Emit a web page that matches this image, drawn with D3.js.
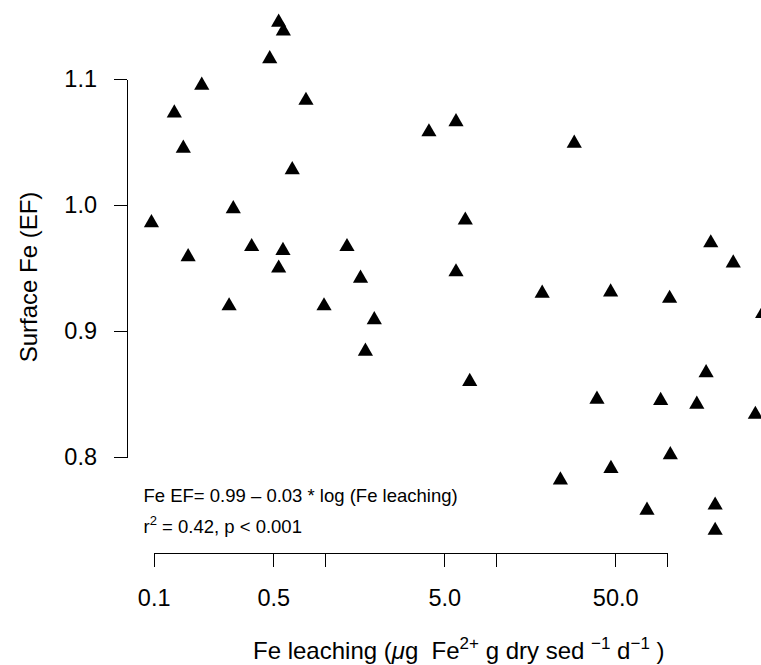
<!DOCTYPE html>
<html>
<head>
<meta charset="utf-8">
<script src="https://cdn.jsdelivr.net/npm/d3@7"></script>
<style>
  body { margin: 0; background: #fff; }
  svg { display: block; font-family: "Liberation Sans", Arial, Helvetica, sans-serif; }
  .axis path, .axis line { stroke: #000; stroke-width: 1.2; shape-rendering: crispEdges; }
  .axis text { font-size: 23.5px; fill: #000; }
  .xtitle { white-space: pre; }
</style>
</head>
<body>
<div id="chart"></div>
<script>
////////////////////////////////////////////////////////////
//////////////////////// Data //////////////////////////////
////////////////////////////////////////////////////////////

// Fe leaching (ug Fe2+ g dry sed-1 d-1)
var feLeaching = [0.097, 0.132, 0.149, 0.159, 0.191, 0.276, 0.292, 0.374, 0.477, 0.538,
                  0.573, 0.538, 0.570, 0.646, 0.777, 0.991, 1.35, 1.62, 1.73, 1.95,
                  4.07, 5.86, 5.86, 6.64, 7.05, 18.7, 23.9, 28.8, 39.1, 47.0,
                  47.2, 76.7, 92.2, 104, 105, 150, 170, 181, 192, 192,
                  245, 330, 364];

// Surface Fe enrichment factor
var surfaceFe = [0.986, 1.073, 1.045, 0.959, 1.095, 0.920, 0.997, 0.967, 1.116, 1.145,
                 1.138, 0.950, 0.964, 1.028, 1.083, 0.920, 0.967, 0.942, 0.884, 0.909,
                 1.058, 1.066, 0.947, 0.988, 0.860, 0.930, 0.782, 1.049, 0.846, 0.931,
                 0.791, 0.758, 0.845, 0.926, 0.802, 0.842, 0.867, 0.970, 0.762, 0.742,
                 0.954, 0.834, 0.914];

var xTickValues = [0.1, 0.5, 1, 5, 10, 50, 100],
    xTickLabels = ["0.1", "0.5", "", "5.0", "", "50.0", ""];

var yTickValues = [0.8, 0.9, 1.0, 1.1],
    yTickLabels = ["0.8", "0.9", "1.0", "1.1"];

////////////////////////////////////////////////////////////
//////////////////////// Set-Up ////////////////////////////
////////////////////////////////////////////////////////////

var width = 761,
    height = 665;

var x = d3.scaleLog()
    .domain([0.1, 100])
    .range([153.7, 666.7]);

var y = d3.scaleLinear()
    .domain([0.8, 1.1])
    .range([457.3, 79]);

var svg = d3.select("#chart").append("svg")
    .attr("width", width)
    .attr("height", height);

////////////////////////////////////////////////////////////
//////////////////////// Axes //////////////////////////////
////////////////////////////////////////////////////////////

var xAxis = d3.axisBottom(x)
    .tickValues(xTickValues)
    .tickFormat(function(d, i) { return xTickLabels[i]; })
    .tickSize(14)
    .tickSizeOuter(0)
    .tickPadding(23);

svg.append("g")
    .attr("class", "axis")
    .attr("transform", "translate(0,552.7)")
    .call(xAxis);

var yAxis = d3.axisLeft(y)
    .tickValues(yTickValues)
    .tickFormat(function(d, i) { return yTickLabels[i]; })
    .tickSize(13.5)
    .tickSizeOuter(0)
    .tickPadding(16.8);

svg.append("g")
    .attr("class", "axis")
    .attr("transform", "translate(127.3,0)")
    .call(yAxis);

//let the css set the font
svg.selectAll(".axis").attr("font-family", null).attr("font-size", null);

////////////////////////////////////////////////////////////
//////////////////////// Points ////////////////////////////
////////////////////////////////////////////////////////////

var triangle = d3.symbol().type(d3.symbolTriangle).size(100);

svg.append("g")
    .selectAll("path.pt")
    .data(d3.range(feLeaching.length))
    .enter().append("path")
    .attr("class", "pt")
    .attr("d", triangle)
    .attr("transform", function(i) { return "translate(" + x(feLeaching[i]) + "," + y(surfaceFe[i]) + ")"; })
    .style("fill", "#000");

////////////////////////////////////////////////////////////
//////////////////////// Labels ////////////////////////////
////////////////////////////////////////////////////////////

// y axis title
svg.append("text")
    .attr("transform", "translate(37,277) rotate(-90)")
    .style("text-anchor", "middle")
    .style("font-size", "24px")
    .text("Surface Fe (EF)");

// x axis title, flowing like R's plotmath
var xt = svg.append("text")
    .attr("class", "xtitle")
    .attr("x", 253)
    .attr("y", 659)
    .style("font-size", "24px");
xt.append("tspan").text("Fe leaching (");
xt.append("tspan").style("font-style", "italic").text("\u03bc");
xt.append("tspan").text("g  Fe");
xt.append("tspan").attr("dy", -10).style("font-size", "17px").text("2+");
xt.append("tspan").attr("dy", 10).text(" g dry sed ");
xt.append("tspan").attr("dy", -10).style("font-size", "17px").text("\u22121");
xt.append("tspan").attr("dy", 10).text(" d");
xt.append("tspan").attr("dy", -10).style("font-size", "17px").text("\u22121");
xt.append("tspan").attr("dy", 10).text(" )");

// regression annotation
svg.append("text")
    .attr("x", 143.5)
    .attr("y", 501.5)
    .style("font-size", "18.5px")
    .text("Fe EF= 0.99 \u2013 0.03 * log (Fe leaching)");

var r2 = svg.append("text")
    .attr("x", 143.5)
    .attr("y", 532.5)
    .style("font-size", "18.5px");
r2.append("tspan").text("r");
r2.append("tspan").attr("dy", -8).style("font-size", "13px").text("2");
r2.append("tspan").attr("dy", 8).text(" = 0.42, p < 0.001");
</script>
</body>
</html>
